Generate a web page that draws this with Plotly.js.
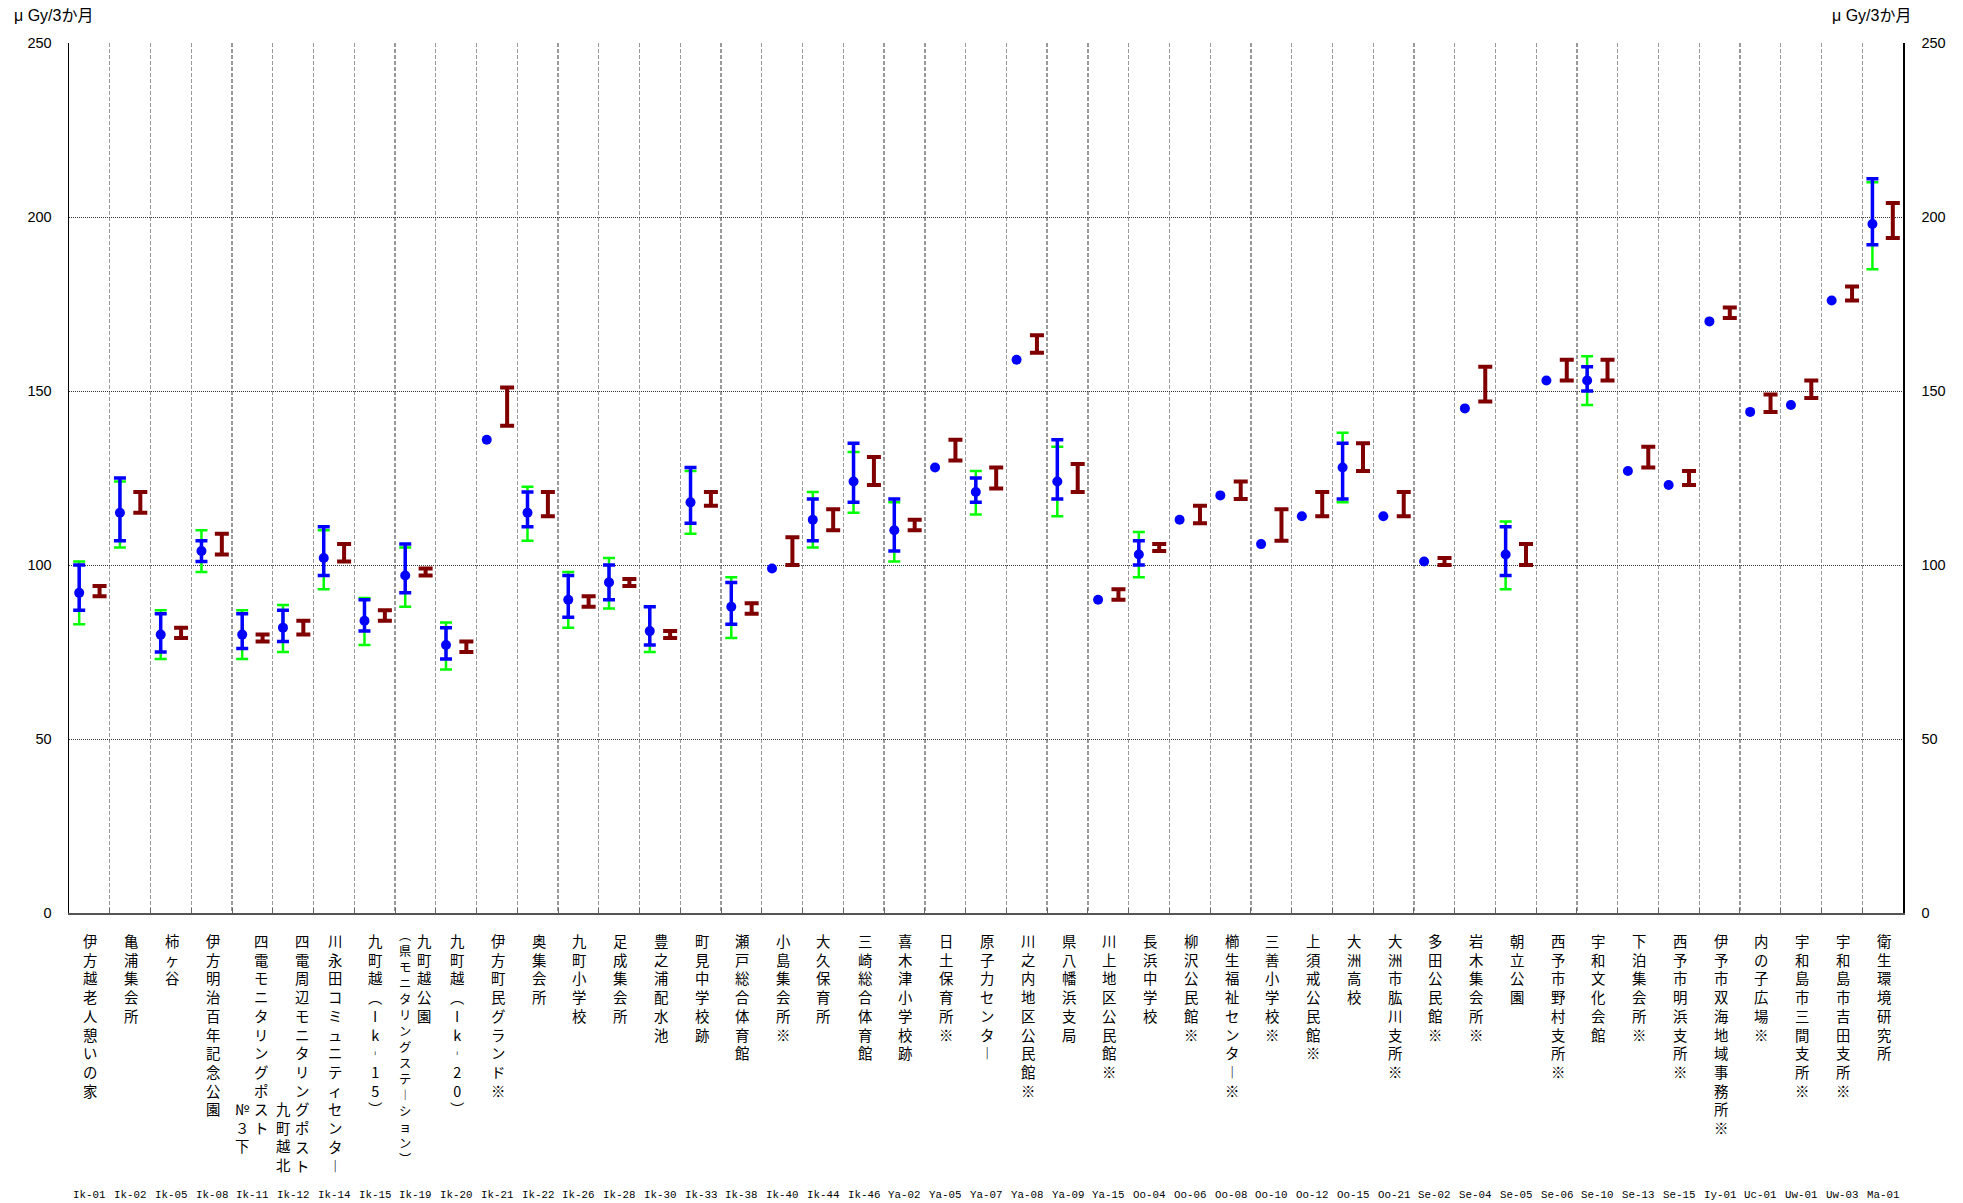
<!DOCTYPE html>
<html><head><meta charset="utf-8">
<script src="https://cdn.plot.ly/plotly-3.0.1.min.js"></script>
<style>body{margin:0;background:#fff}</style>
</head><body><div id="chart" style="width:1963px;height:1203px"></div>
<script>
const codes = ['Ik-01','Ik-02','Ik-05','Ik-08','Ik-11','Ik-12','Ik-14','Ik-15','Ik-19','Ik-20','Ik-21','Ik-22','Ik-26','Ik-28','Ik-30','Ik-33','Ik-38','Ik-40','Ik-44','Ik-46',
  'Ya-02','Ya-05','Ya-07','Ya-08','Ya-09','Ya-15','Oo-04','Oo-06','Oo-08','Oo-10','Oo-12','Oo-15','Oo-21',
  'Se-02','Se-04','Se-05','Se-06','Se-10','Se-13','Se-15','Iy-01','Uc-01','Uw-01','Uw-03','Ma-01'];
const names = ['伊方越老人憩いの家','亀浦集会所','柿ヶ谷','伊方明治百年記念公園','四電モニタリングポスト\n№３下','四電周辺モニタリングポスト\n九町越北',
  '川永田コミュニティセンター','九町越（Ik-15）','九町越公園\n（県モニタリングステーション）','九町越（Ik-20）','伊方町民グランド※','奥集会所',
  '九町小学校','足成集会所','豊之浦配水池','町見中学校跡','瀬戸総合体育館','小島集会所※','大久保育所','三崎総合体育館',
  '喜木津小学校跡','日土保育所※','原子力センター','川之内地区公民館※','県八幡浜支局','川上地区公民館※',
  '長浜中学校','柳沢公民館※','櫛生福祉センター※','三善小学校※','上須戒公民館※','大洲高校','大洲市肱川支所※',
  '多田公民館※','岩木集会所※','朝立公園','西予市野村支所※','宇和文化会館','下泊集会所※','西予市明浜支所※',
  '伊予市双海地域事務所※','内の子広場※','宇和島市三間支所※','宇和島市吉田支所※','衛生環境研究所'];
// blue: measured value with range
const mean      = [92,115,80,104,80,82,102,84,97,77,136,115,90,95,81,118,88,99,113,124,110,128,121,159,124,90,103,113,120,106,114,128,114,101,145,103,153,153,127,123,170,144,146,176,198];
const blueLow   = [87,107,75,101,76,78,97,81,92,73,null,111,85,90,77,112,83,null,107,118,104,null,118,null,119,null,100,null,null,null,null,119,null,null,null,97,null,150,null,null,null,null,null,null,192];
const blueHigh  = [100,125,86,107,86,87,111,90,106,82,null,121,97,100,88,128,95,null,119,135,119,null,125,null,136,null,107,null,null,null,null,135,null,null,null,111,null,157,null,null,null,null,null,null,211];
// green: wider range
const greenLow  = [83,105,73,98,73,75,93,77,88,70,null,107,82,87.5,75,109,79,null,105,115,101,null,114.5,null,114,null,96.5,null,null,null,null,118,null,null,null,93,null,146,null,null,null,null,null,null,185];
const greenHigh = [101,124,87,110,87,88.5,110,90.5,105,83.5,null,122.5,98,102,88,127,96.5,null,121,132.5,118,null,127,null,134,null,109.5,null,null,null,null,138,null,null,null,112.5,null,160,null,null,null,null,null,null,210];
// dark red: past range
const pastLow   = [91,115,79,103,78,80,101,84,97,75,140,114,88,94,79,117,86,100,110,123,110,130,122,161,121,90,104,112,119,107,114,127,114,100,147,100,153,153,128,123,171,144,148,176,194];
const pastHigh  = [94,121,82,109,80,84,106,87,99,78,151,121,91,96,81,121,89,108,116,131,113,136,128,166,129,93,106,117,124,116,121,135,121,102,157,106,159,159,134,127,174,149,153,180,204];
const yTicks = [0,50,100,150,200,250];
const unitText = 'μ Gy/3か月';

const idx = codes.map((c,i)=>i);
const xBlue = idx.map(i=>i-0.25);
const xRed = idx.map(i=>i+0.25);
const plusOf = (hi) => hi.map((h,i)=> h===null ? NaN : h-mean[i]);
const minusOf = (lo) => lo.map((l,i)=> l===null ? NaN : mean[i]-l);

const traces = [
  { type:'scatter', mode:'markers', x:xBlue, y:mean, marker:{color:'rgba(0,0,0,0)',size:1},
    error_y:{type:'data', symmetric:false, array:plusOf(greenHigh), arrayminus:minusOf(greenLow), color:'#00ff00', thickness:2.5, width:6},
    hoverinfo:'skip', showlegend:false },
  { type:'scatter', mode:'markers', x:xBlue, y:mean, marker:{color:'#0000ff',size:10},
    error_y:{type:'data', symmetric:false, array:plusOf(blueHigh), arrayminus:minusOf(blueLow), color:'#0000ff', thickness:3.5, width:6},
    showlegend:false },
  { type:'scatter', mode:'markers', x:xRed, y:pastLow, yaxis:'y2', marker:{color:'rgba(0,0,0,0)',size:1},
    error_y:{type:'data', symmetric:false, array:pastHigh.map((h,i)=>h-pastLow[i]), arrayminus:pastLow.map(()=>0), color:'#800000', thickness:4, width:7},
    showlegend:false }
];

const vmap = {'（':'︵','）':'︶','ー':'︱','-':'︲'};
const vert = s => Array.from(s).map(c=>vmap[c]||c).join('<br>');
const col2Start = {'Ik-11':9,'Ik-12':9,'Ik-19':0};
const col2Small = {'Ik-19':true};
const FS = 14.4, PITCH = FS*1.3;

const annotations = [];
codes.forEach((c,i)=>{
  const parts = names[i].split('\n');
  const two = parts.length>1;
  annotations.push({xref:'x', yref:'paper', x:i, y:0, xanchor:'center', yanchor:'top', yshift:-15,
    xshift: two ? 9 : 1, text:vert(parts[0]), showarrow:false, align:'center',
    font:{family:'Noto Sans CJK JP', size:FS, color:'#000'}});
  if(two){
    const small = col2Small[c];
    const fs = small ? 12.3 : FS;
    annotations.push({xref:'x', yref:'paper', x:i, y:0, xanchor:'center', yanchor:'top',
      yshift: small ? -11 : -15 - col2Start[c]*PITCH,
      xshift: -10, text:vert(parts[1]), showarrow:false, align:'center',
      font:{family:'Noto Sans CJK JP', size:fs, color:'#000'}});
  }
  annotations.push({xref:'x', yref:'paper', x:i, y:0, xanchor:'center', yanchor:'middle', yshift:-282,
    text:c, showarrow:false, font:{family:'Liberation Mono', size:10.8, color:'#000'}});
});
annotations.push({xref:'paper', yref:'paper', x:0, y:1, xshift:-57, yshift:28, xanchor:'left', yanchor:'middle',
  text:unitText, showarrow:false, font:{family:'Liberation Sans, Noto Sans CJK JP', size:16, color:'#000'}});
annotations.push({xref:'paper', yref:'paper', x:1, y:1, xshift:10, yshift:28, xanchor:'right', yanchor:'middle',
  text:unitText, showarrow:false, font:{family:'Liberation Sans, Noto Sans CJK JP', size:16, color:'#000'}});

const boundaries = idx.slice(0,-1).map(i=>i+0.5);

const layout = {
  width:1963, height:1203,
  margin:{l:69, r:60, t:43, b:290, pad:0},
  paper_bgcolor:'#fff', plot_bgcolor:'#fff',
  showlegend:false,
  font:{family:'Liberation Sans', size:14, color:'#000'},
  xaxis:{range:[-0.5, codes.length-0.5], tickmode:'array', tickvals:boundaries, showticklabels:false,
    ticks:'inside', ticklen:5, tickcolor:'#666', tickwidth:1,
    showgrid:true, gridcolor:'#999', griddash:'4px,2px', gridwidth:1.3,
    showline:true, linecolor:'#555', linewidth:1.5, zeroline:false, fixedrange:true},
  yaxis:{range:[0,250], tickmode:'array', tickvals:yTicks, ticks:'', ticklabelstandoff:13,
    showgrid:true, gridcolor:'#333', griddash:'1px,1px', gridwidth:1,
    showline:true, linecolor:'#000', linewidth:1.5, zeroline:false,
    tickfont:{family:'Liberation Sans', size:14.5, color:'#000'}},
  yaxis2:{range:[0,250], overlaying:'y', side:'right', tickmode:'array', tickvals:yTicks, ticks:'', ticklabelstandoff:14,
    showgrid:false, showline:true, linecolor:'#000', linewidth:1.5, zeroline:false,
    tickfont:{family:'Liberation Sans', size:14.5, color:'#000'}},
  annotations:annotations
};
Plotly.newPlot('chart', traces, layout, {staticPlot:true, displayModeBar:false});
</script></body></html>
